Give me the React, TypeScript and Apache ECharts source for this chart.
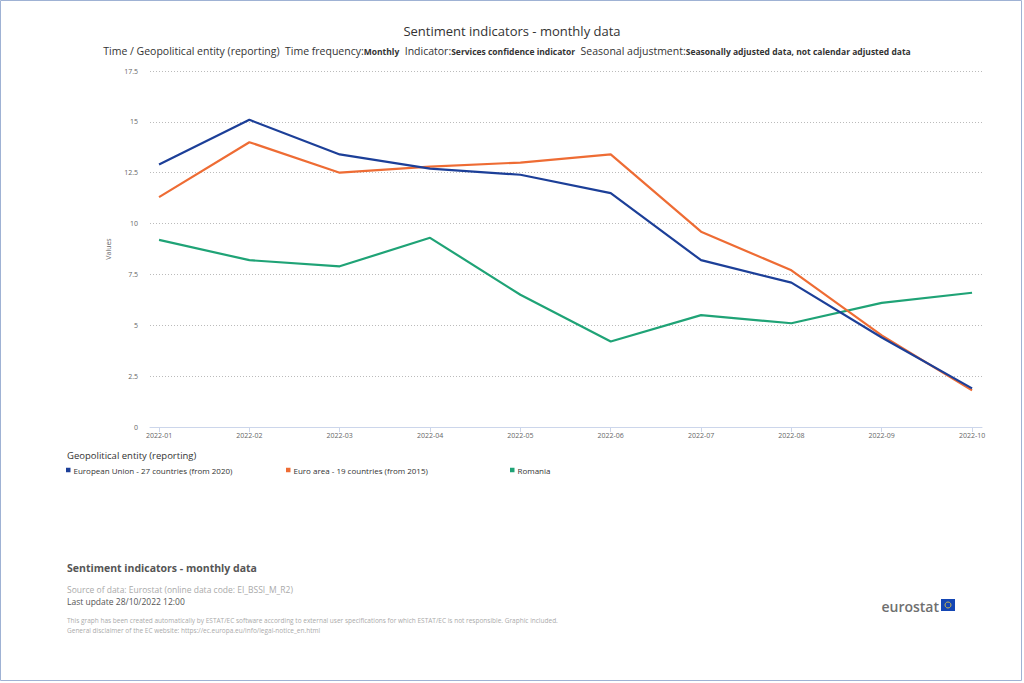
import React, { useEffect, useRef } from "react";
import * as echarts from "echarts";

const months = ["2022-01", "2022-02", "2022-03", "2022-04", "2022-05", "2022-06", "2022-07", "2022-08", "2022-09", "2022-10"];
const euValues = [12.9, 15.1, 13.4, 12.7, 12.4, 11.5, 8.2, 7.1, 4.4, 1.9];
const euroAreaValues = [11.3, 14.0, 12.5, 12.8, 13.0, 13.4, 9.6, 7.7, 4.5, 1.8];
const romaniaValues = [9.2, 8.2, 7.9, 9.3, 6.5, 4.2, 5.5, 5.1, 6.1, 6.6];
const seriesNames = [
  "European Union - 27 countries (from 2020)",
  "Euro area - 19 countries (from 2015)",
  "Romania",
];
const seriesColors = ["#1c3f98", "#ee6c34", "#1fa376"];

const FONT = "'Open Sans', 'Noto Sans', sans-serif";

export default function App() {
  const ref = useRef<HTMLDivElement>(null);

  useEffect(() => {
    if (!ref.current) return;
    const chart = echarts.init(ref.current, undefined, { renderer: "svg" });
    const values = [euValues, euroAreaValues, romaniaValues];
    const monthIndex = months.map((_, i) => i);
    const legendLefts = [66, 286, 510];

    chart.setOption({
      animation: false,
      backgroundColor: "#ffffff",
      textStyle: { fontFamily: FONT },
      grid: { left: 150, right: 42, top: 71, bottom: 256, containLabel: false },
      // month positions on a value axis so the plot keeps a little padding at both ends
      xAxis: {
        type: "value",
        min: -0.1,
        max: 9.11,
        axisLine: { show: true, onZero: false, lineStyle: { color: "#ccd6eb", width: 1 } },
        axisTick: { show: true, length: 5, customValues: monthIndex, lineStyle: { color: "#ccd6eb" } },
        axisLabel: {
          color: "#666",
          fontSize: 7,
          margin: 5,
          fontFamily: FONT,
          customValues: monthIndex,
          formatter: (v: number) => months[Math.round(v)] ?? "",
        },
        splitLine: { show: false },
      },
      yAxis: {
        type: "value",
        min: 0,
        max: 17.5,
        interval: 2.5,
        name: "Values",
        nameLocation: "middle",
        nameGap: 38,
        nameRotate: 90,
        nameTextStyle: { color: "#666", fontSize: 7, fontFamily: FONT },
        axisLine: { show: false },
        axisTick: { show: false },
        axisLabel: { color: "#666", fontSize: 7, margin: 12, fontFamily: FONT },
        splitLine: { lineStyle: { color: "#bbbbbb", type: [1, 2], width: 1 } },
      },
      legend: seriesNames.map((n, i) => ({
        data: [n],
        left: legendLefts[i],
        top: 466,
        icon: "rect",
        itemWidth: 4.5,
        itemHeight: 4.5,
        itemGap: 3,
        padding: 0,
        selectedMode: false,
        textStyle: { fontSize: 8, color: "#333", fontFamily: FONT, padding: [0, 0, 0, -2] },
      })),
      series: seriesNames.map((n, i) => ({
        name: n,
        type: "line",
        data: values[i].map((v, j) => [j, v]),
        color: seriesColors[i],
        symbol: "none",
        lineStyle: { width: 2.2, color: seriesColors[i] },
        z: 3 - i,
      })),
      graphic: [
        {
          type: "rect",
          shape: { x: 0.5, y: 0.5, width: 1021, height: 680 },
          style: { fill: "none", stroke: "#9fb2d4", lineWidth: 1 },
          silent: true,
        },
        {
          type: "text",
          x: 512,
          y: 31,
          style: {
            text: "Sentiment indicators - monthly data",
            fill: "#333",
            font: `13px ${FONT}`,
            align: "center",
            verticalAlign: "middle",
          },
        },
        {
          type: "text",
          x: 507,
          y: 51,
          style: {
            text:
              "{n|Time / Geopolitical entity (reporting)  Time frequency:}{b|Monthly}{n|  Indicator:}{b|Services confidence indicator}{n|  Seasonal adjustment:}{b|Seasonally adjusted data, not calendar adjusted data}",
            align: "center",
            verticalAlign: "middle",
            rich: {
              n: { fill: "#333", fontSize: 10.5, fontFamily: FONT },
              b: { fill: "#333", fontSize: 8.5, fontWeight: "bold", fontFamily: FONT },
            },
          },
        },
        {
          type: "text",
          x: 67,
          y: 455,
          style: {
            text: "Geopolitical entity (reporting)",
            fill: "#333",
            font: `9.5px ${FONT}`,
            verticalAlign: "middle",
          },
        },
        {
          type: "text",
          x: 67,
          y: 568,
          style: {
            text: "Sentiment indicators - monthly data",
            fill: "#555",
            font: `bold 10.5px ${FONT}`,
            verticalAlign: "middle",
          },
        },
        {
          type: "text",
          x: 67,
          y: 589,
          style: {
            text: "Source of data: Eurostat (online data code: EI_BSSI_M_R2)",
            fill: "#aaa",
            font: `8.5px ${FONT}`,
            verticalAlign: "middle",
          },
        },
        {
          type: "text",
          x: 67,
          y: 601,
          style: {
            text: "Last update 28/10/2022 12:00",
            fill: "#555",
            font: `8.5px ${FONT}`,
            verticalAlign: "middle",
          },
        },
        {
          type: "text",
          x: 67,
          y: 620,
          style: {
            text:
              "This graph has been created automatically by ESTAT/EC software according to external user specifications for which ESTAT/EC is not responsible. Graphic included.",
            fill: "#aaa",
            font: `6.5px ${FONT}`,
            verticalAlign: "middle",
          },
        },
        {
          type: "text",
          x: 67,
          y: 630,
          style: {
            text: "General disclaimer of the EC website: https://ec.europa.eu/info/legal-notice_en.html",
            fill: "#aaa",
            font: `6.5px ${FONT}`,
            verticalAlign: "middle",
          },
        },
        {
          type: "text",
          x: 939,
          y: 606,
          style: {
            text: "eurostat",
            fill: "#6f6f6f",
            font: `600 14px ${FONT}`,
            align: "right",
            verticalAlign: "middle",
          },
        },
        {
          type: "rect",
          shape: { x: 941, y: 599, width: 14, height: 12 },
          style: { fill: "#1446b4" },
        },
        {
          type: "circle",
          shape: { cx: 948, cy: 605, r: 3 },
          style: { fill: "none", stroke: "#f5d23a", lineWidth: 0.8 },
        },
      ],
    });

    return () => chart.dispose();
  }, []);

  return (
    <div
      ref={ref}
      style={{ position: "absolute", left: 0, top: 0, width: 1024, height: 683 }}
    />
  );
}
